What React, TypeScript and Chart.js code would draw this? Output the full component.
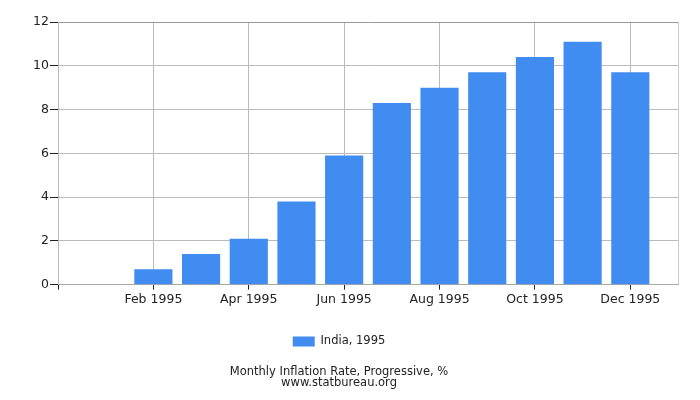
import { useRef, useEffect } from "react";
import { Chart, registerables } from "chart.js";

Chart.register(...registerables);

// Months of 1995 and the progressive inflation rate, %
const months = [
  "Jan 1995", "Feb 1995", "Mar 1995", "Apr 1995", "May 1995", "Jun 1995",
  "Jul 1995", "Aug 1995", "Sep 1995", "Oct 1995", "Nov 1995", "Dec 1995",
];
const inflation = [0, 0.7, 1.4, 2.1, 3.8, 5.9, 8.3, 9.0, 9.7, 10.4, 11.1, 9.7];
const shownTicks = ["Feb 1995", "Apr 1995", "Jun 1995", "Aug 1995", "Oct 1995", "Dec 1995"];
const yTicks = [0, 2, 4, 6, 8, 10, 12];

const FONT = "'DejaVu Sans', sans-serif";

const App = () => {
  const chartRef = useRef<HTMLCanvasElement | null>(null);
  const chartInstance = useRef<Chart | null>(null);

  useEffect(() => {
    document.body.style.margin = "0";
    if (!chartRef.current) return;

    // empty slots on both sides, the axis runs from Dec 1994 to Jan 1996
    const labels = ["", ...months, ""];
    const values = [null, ...inflation, null];

    if (chartInstance.current) {
      chartInstance.current.destroy();
    }
    const ctx = chartRef.current.getContext("2d");
    if (!ctx) return;

    chartInstance.current = new Chart(ctx, {
      type: "bar",
      data: {
        labels,
        datasets: [
          {
            label: "India, 1995",
            data: values,
            backgroundColor: "#418cf0",
            borderWidth: 0,
            barPercentage: 0.8,
            categoryPercentage: 1,
          },
        ],
      },
      options: {
        responsive: false,
        animation: false,
        layout: { padding: { top: 22, right: 22, left: 0, bottom: 12 } },
        plugins: {
          tooltip: { enabled: false },
          legend: {
            position: "bottom",
            labels: {
              boxWidth: 22,
              boxHeight: 10,
              color: "#222",
              font: { family: FONT, size: 11.5 },
              padding: 10,
            },
          },
          title: {
            display: true,
            position: "bottom",
            text: ["Monthly Inflation Rate, Progressive, %", "www.statbureau.org"],
            color: "#222",
            font: { family: FONT, size: 11.5, weight: "normal", lineHeight: 0.95 },
            padding: { top: 9, bottom: 0 },
          },
        },
        scales: {
          x: {
            offset: false,
            border: { color: "#aaa" },
            grid: {
              offset: false,
              color: (c) => {
                const label = labels[c.index];
                if (c.index === labels.length - 1) return "#ccc";
                return shownTicks.includes(label) ? "#bbb" : "rgba(0,0,0,0)";
              },
              tickColor: (c) => {
                const label = labels[c.index];
                return c.index === 0 || shownTicks.includes(label) ? "#222" : "rgba(0,0,0,0)";
              },
              tickLength: 5,
            },
            ticks: {
              autoSkip: false,
              maxRotation: 0,
              padding: 3,
              color: "#222",
              font: { family: FONT, size: 12.5 },
              callback: (_v, i) => (shownTicks.includes(labels[i]) ? labels[i] : ""),
            },
            afterFit: (scale) => {
              scale.height = 41;
            },
          },
          y: {
            min: 0,
            max: 12,
            border: { color: "#bbb" },
            grid: {
              color: (c) => (c.tick && c.tick.value === 12 ? "#999" : "#bbb"),
              tickColor: "#222",
              tickLength: 8,
            },
            ticks: {
              padding: 1,
              color: "#222",
              font: { family: FONT, size: 12.5 },
              stepSize: 2,
              callback: (v) => (yTicks.includes(v as number) ? String(v) : ""),
            },
            afterFit: (scale) => {
              scale.width = 58;
            },
          },
        },
      },
    });

    return () => {
      if (chartInstance.current) {
        chartInstance.current.destroy();
        chartInstance.current = null;
      }
    };
  }, []);

  return (
    <div style={{ width: 700, height: 400 }}>
      <canvas ref={chartRef} width={700} height={400} />
    </div>
  );
};

export default App;
